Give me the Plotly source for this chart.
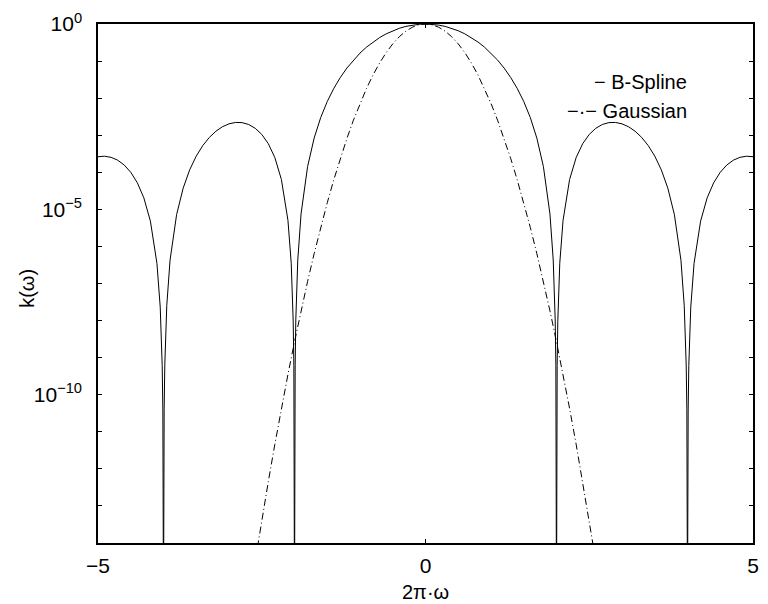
import plotly.graph_objects as go

# Frequency axis samples (2*pi*omega) and cubic B-spline kernel response k(omega)
bspline_x = [
    -5.0, -4.9, -4.8, -4.7, -4.6, -4.5, -4.4, -4.3, -4.2, -4.1, -4.05, -4.02, -4.01, -4.0,
    -3.99, -3.98, -3.95, -3.9, -3.8, -3.7, -3.6, -3.5, -3.4, -3.3, -3.2, -3.1, -3.0,
    -2.9, -2.8, -2.7, -2.6, -2.5, -2.4, -2.3, -2.2, -2.1, -2.05, -2.02, -2.01, -2.0,
    -1.99, -1.98, -1.95, -1.9, -1.8, -1.7, -1.6, -1.5, -1.4, -1.3, -1.2, -1.1, -1.0,
    -0.9, -0.8, -0.7, -0.6, -0.5, -0.4, -0.3, -0.2, -0.1, 0.0,
    0.1, 0.2, 0.3, 0.4, 0.5, 0.6, 0.7, 0.8, 0.9, 1.0,
    1.1, 1.2, 1.3, 1.4, 1.5, 1.6, 1.7, 1.8, 1.9, 1.95, 1.98, 1.99, 2.0,
    2.01, 2.02, 2.05, 2.1, 2.2, 2.3, 2.4, 2.5, 2.6, 2.7, 2.8, 2.9, 3.0,
    3.1, 3.2, 3.3, 3.4, 3.5, 3.6, 3.7, 3.8, 3.9, 3.95, 3.98, 3.99, 4.0,
    4.01, 4.02, 4.05, 4.1, 4.2, 4.3, 4.4, 4.5, 4.6, 4.7, 4.8, 4.9, 5.0,
]
bspline_k = [
    2.6281e-4, 2.7115e-4, 2.5315e-4, 2.1215e-4, 1.5715e-4, 1.0014e-4, 5.2309e-5, 2.0410e-5,
    4.8135e-6, 3.4811e-7, 2.3137e-8, 6.123e-10, 3.868e-11, 1e-16,
    3.945e-11, 6.372e-10, 2.5568e-8, 4.2522e-7, 7.1831e-6, 3.7230e-5, 1.1673e-4, 2.7365e-4,
    5.2653e-4, 8.7295e-4, 1.2816e-3, 1.6926e-3, 2.0279e-3,
    2.2100e-3, 2.1863e-3, 1.9480e-3, 1.5398e-3, 1.0513e-3, 5.9096e-4, 2.4933e-4, 6.394e-5,
    5.058e-6, 3.524e-7, 9.604e-9, 6.127e-10, 1e-16,
    6.375e-10, 1.040e-8, 4.304e-7, 7.548e-6, 1.4268e-4, 8.3543e-4, 2.9917e-3, 8.1113e-3,
    1.8317e-2, 3.6247e-2, 6.4807e-2, 0.10677, 0.16426,
    0.23825, 0.32809, 0.43117, 0.54293, 0.65702, 0.76587, 0.86143, 0.93612, 0.98367, 1.0,
    0.98367, 0.93612, 0.86143, 0.76587, 0.65702, 0.54293, 0.43117, 0.32809, 0.23825, 0.16426,
    0.10677, 6.4807e-2, 3.6247e-2, 1.8317e-2, 8.1113e-3, 2.9917e-3, 8.3543e-4, 1.4268e-4,
    7.548e-6, 4.304e-7, 1.040e-8, 6.375e-10, 1e-16,
    6.127e-10, 9.604e-9, 3.524e-7, 5.058e-6, 6.394e-5, 2.4933e-4, 5.9096e-4, 1.0513e-3,
    1.5398e-3, 1.9480e-3, 2.1863e-3, 2.2100e-3, 2.0279e-3,
    1.6926e-3, 1.2816e-3, 8.7295e-4, 5.2653e-4, 2.7365e-4, 1.1673e-4, 3.7230e-5, 7.1831e-6,
    4.2522e-7, 2.5568e-8, 6.372e-10, 3.945e-11, 1e-16,
    3.868e-11, 6.123e-10, 2.3137e-8, 3.4811e-7, 4.8135e-6, 2.0410e-5, 5.2309e-5, 1.0014e-4,
    1.5715e-4, 2.1215e-4, 2.5315e-4, 2.7115e-4, 2.6281e-4,
]

# Gaussian kernel response on the same frequency axis
gauss_x = [
    -2.6, -2.5, -2.4, -2.3, -2.2, -2.1, -2.0, -1.9, -1.8, -1.7, -1.6, -1.5, -1.4,
    -1.3, -1.2, -1.1, -1.0, -0.9, -0.8, -0.7, -0.6, -0.5, -0.4, -0.3, -0.2, -0.1, 0.0,
    0.1, 0.2, 0.3, 0.4, 0.5, 0.6, 0.7, 0.8, 0.9, 1.0, 1.1, 1.2, 1.3,
    1.4, 1.5, 1.6, 1.7, 1.8, 1.9, 2.0, 2.1, 2.2, 2.3, 2.4, 2.5, 2.6,
]
gauss_k = [
    3.25e-15, 4.03e-14, 4.523e-13, 4.600e-12, 4.238e-11, 3.536e-10, 2.6740e-9, 1.8326e-8,
    1.1375e-7, 6.4015e-7, 3.2617e-6, 1.5063e-5, 6.3012e-5,
    2.3886e-4, 8.1987e-4, 2.5509e-3, 7.1919e-3, 1.8366e-2, 4.2493e-2, 8.9091e-2, 0.16921,
    0.29122, 0.45404, 0.64136, 0.82087, 0.95185, 1.0,
    0.95185, 0.82087, 0.64136, 0.45404, 0.29122, 0.16921, 8.9091e-2, 4.2493e-2, 1.8366e-2,
    7.1919e-3, 2.5509e-3, 8.1987e-4, 2.3886e-4,
    6.3012e-5, 1.5063e-5, 3.2617e-6, 6.4015e-7, 1.1375e-7, 1.8326e-8, 2.6740e-9, 3.536e-10,
    4.238e-11, 4.600e-12, 4.523e-13, 4.03e-14, 3.25e-15,
]

# Axis ticks: labelled decades plus an unlabelled mark at every decade
x_tickvals = [-5, 0, 5]
x_ticktext = ["\u22125", "0", "5"]
y_label_decades = [0, -5, -10]
y_ticktext = ["10<sup>0</sup>", "10<sup>\u22125</sup>", "10<sup>\u221210</sup>"]
y_minor_decades = [-1, -2, -3, -4, -6, -7, -8, -9, -11, -12, -13]

legend_lines = ["\u2212 B-Spline", "\u2212\u00b7\u2212 Gaussian"]

FONT = "Liberation Sans, Arial, Helvetica, sans-serif"

fig = go.Figure()
fig.add_trace(go.Scatter(
    x=bspline_x, y=bspline_k, mode="lines",
    line=dict(color="black", width=1), name="B-Spline", showlegend=False,
))
fig.add_trace(go.Scatter(
    x=gauss_x, y=gauss_k, mode="lines",
    line=dict(color="black", width=1, dash="7px,3px,1px,3px"), name="Gaussian",
    showlegend=False,
))

axis_common = dict(
    showline=True, linecolor="black", linewidth=1.5, mirror="ticks",
    ticks="inside", ticklen=4, tickwidth=1, tickcolor="black",
    showgrid=False, zeroline=False,
    tickfont=dict(family=FONT, size=21, color="black"),
)

fig.update_xaxes(
    range=[-5, 5], tickvals=x_tickvals, ticktext=x_ticktext,
    ticklabelstandoff=3, **axis_common,
)
fig.update_yaxes(
    type="log", range=[-14, 0],
    tickvals=[10.0 ** d for d in y_label_decades],
    ticktext=y_ticktext,
    minor=dict(tickmode="array", tickvals=[10.0 ** d for d in y_minor_decades],
               ticks="inside", ticklen=4, tickwidth=1, tickcolor="black", showgrid=False),
    ticklabelstandoff=10, **axis_common,
)

annotations = [
    dict(text="k(\u03c9)", x=-0.1074, y=0.491, xref="paper", yref="paper",
         textangle=-90, showarrow=False, xanchor="center", yanchor="middle",
         font=dict(family=FONT, size=20, color="black")),
    dict(text="2\u03c0\u00b7\u03c9", x=0.5, y=-0.094, xref="paper", yref="paper",
         showarrow=False, xanchor="center", yanchor="middle",
         font=dict(family=FONT, size=20, color="black")),
]
for i, line in enumerate(legend_lines):
    annotations.append(dict(
        text=line, x=0.903, y=0.889 - 0.057 * i, xref="paper", yref="paper",
        showarrow=False, xanchor="right", yanchor="middle",
        font=dict(family=FONT, size=20, color="black"),
    ))

fig.update_layout(
    width=768, height=604,
    margin=dict(l=98, r=9, t=24, b=61),
    paper_bgcolor="white", plot_bgcolor="white",
    annotations=annotations,
)

fig.write_html("out.html")
